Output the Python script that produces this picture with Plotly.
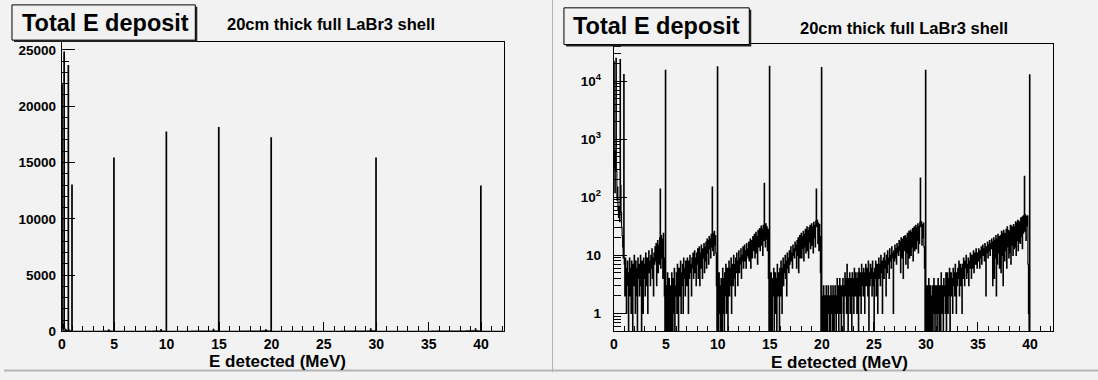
import numpy as np
import plotly.graph_objects as go

# ---------------- data (counts per 0.05 MeV bin) ----------------
bin_width = 0.05  # MeV
counts_00_05 = [21900, 310, 120, 640, 24800, 280, 90, 150, 60, 45,
                70, 38, 23600, 160, 55, 30, 22, 14, 9, 13000,
                7, 2, 9, 4, 1, 6, 8, 3, 0, 5,
                9, 2, 6, 1, 8, 4, 0, 7, 3, 10,
                5, 1, 8, 6, 2, 0, 9, 4, 7, 2,
                6, 10, 3, 0, 8, 5, 1, 9, 4, 7,
                2, 11, 6, 3, 9, 1, 7, 12, 5, 8,
                3, 10, 6, 13, 4, 9, 2, 11, 7, 14,
                8, 16, 3, 12, 18, 5, 15, 7, 20, 138,
                6, 22, 9, 19, 4, 24, 9, 2, 0, 15400]
counts_05_10 = [3, 0, 1, 5, 0, 2, 4, 0, 1, 3,
                0, 5, 2, 0, 4, 1, 6, 0, 3, 2,
                5, 1, 7, 3, 0, 6, 2, 4, 8, 1,
                5, 3, 7, 1, 9, 4, 6, 2, 8, 5,
                3, 9, 6, 1, 8, 4, 10, 5, 7, 2,
                9, 6, 11, 4, 8, 12, 5, 9, 3, 11,
                7, 13, 4, 10, 14, 3, 11, 6, 15, 8,
                4, 13, 9, 16, 5, 14, 8, 17, 6, 19,
                11, 18, 7, 21, 13, 19, 9, 23, 14, 150,
                12, 24, 10, 26, 15, 22, 11, 3, 0, 17700]
counts_10_15 = [2, 0, 5, 1, 3, 0, 4, 2, 0, 6,
                1, 4, 0, 5, 2, 7, 1, 3, 6, 0,
                4, 8, 2, 6, 3, 9, 1, 5, 7, 3,
                10, 4, 7, 2, 9, 5, 11, 6, 3, 8,
                12, 5, 9, 7, 13, 4, 10, 8, 14, 6,
                11, 15, 8, 12, 6, 16, 10, 13, 9, 17,
                8, 15, 19, 6, 14, 18, 9, 21, 12, 17,
                23, 9, 19, 25, 11, 21, 7, 27, 14, 24,
                29, 12, 25, 32, 15, 28, 10, 33, 18, 175,
                30, 14, 35, 19, 31, 12, 28, 4, 0, 18100]
counts_15_20 = [3, 0, 5, 1, 0, 4, 2, 6, 0, 3,
                5, 1, 4, 0, 7, 2, 5, 3, 0, 6,
                2, 8, 4, 1, 6, 9, 3, 7, 5, 10,
                4, 8, 2, 11, 6, 9, 5, 12, 7, 10,
                14, 8, 11, 6, 15, 10, 13, 9, 17, 12,
                15, 6, 18, 10, 20, 5, 16, 22, 9, 19,
                24, 9, 21, 13, 26, 8, 23, 14, 28, 11,
                25, 31, 12, 27, 9, 30, 17, 33, 13, 29,
                35, 15, 31, 11, 37, 20, 33, 14, 39, 138,
                31, 40, 16, 36, 12, 34, 21, 5, 0, 17200]
counts_20_25 = [2, 0, 1, 3, 0, 2, 1, 0, 3, 1,
                0, 2, 3, 1, 0, 2, 0, 3, 1, 2,
                0, 3, 1, 0, 2, 3, 1, 0, 2, 4,
                1, 3, 0, 2, 4, 1, 3, 0, 2, 3,
                4, 1, 0, 3, 5, 2, 4, 1, 7, 3,
                0, 4, 2, 5, 1, 3, 4, 0, 5, 2,
                4, 1, 6, 3, 2, 5, 4, 1, 3, 5,
                0, 6, 2, 4, 5, 1, 7, 3, 5, 2,
                6, 4, 1, 5, 7, 3, 4, 6, 2, 8,
                0, 5, 3, 7, 4, 6, 2, 8, 5, 3]
counts_25_30 = [0, 6, 4, 8, 2, 5, 7, 1, 6, 9,
                4, 7, 3, 10, 5, 8, 1, 6, 9, 4,
                11, 6, 8, 2, 10, 5, 12, 7, 9, 4,
                13, 8, 10, 6, 14, 9, 11, 1, 12, 8,
                15, 9, 13, 7, 16, 11, 14, 10, 18, 12,
                17, 5, 20, 9, 15, 19, 4, 21, 12, 13,
                22, 7, 20, 11, 24, 6, 21, 26, 9, 23,
                27, 10, 25, 14, 29, 8, 26, 31, 12, 28,
                33, 13, 30, 18, 35, 11, 32, 16, 37, 214,
                31, 38, 15, 34, 20, 36, 14, 6, 0, 15400]
counts_30_35 = [2, 0, 3, 1, 0, 4, 2, 0, 3, 1,
                0, 2, 3, 0, 1, 4, 2, 0, 3, 1,
                3, 0, 2, 4, 1, 0, 3, 2, 0, 5,
                2, 1, 3, 0, 4, 2, 3, 1, 5, 0,
                3, 5, 1, 4, 2, 6, 0, 3, 5, 2,
                4, 1, 6, 3, 5, 2, 7, 4, 1, 5,
                3, 6, 4, 8, 2, 5, 7, 3, 6, 1,
                7, 4, 9, 5, 3, 8, 6, 10, 4, 7,
                5, 9, 3, 8, 6, 11, 7, 4, 10, 6,
                9, 12, 5, 8, 11, 7, 13, 9, 6, 11]
counts_35_40 = [8, 13, 10, 6, 12, 9, 14, 7, 11, 15,
                10, 13, 8, 16, 12, 2, 14, 11, 17, 9,
                15, 12, 18, 10, 16, 13, 19, 14, 3, 17,
                20, 4, 18, 9, 22, 2, 19, 7, 23, 11,
                21, 6, 17, 22, 5, 26, 10, 24, 3, 27,
                22, 8, 24, 12, 28, 6, 31, 14, 27, 9,
                26, 11, 33, 7, 32, 15, 30, 10, 34, 13,
                31, 14, 38, 10, 36, 18, 40, 12, 39, 17,
                37, 16, 44, 21, 45, 13, 47, 24, 49, 230,
                26, 50, 18, 46, 32, 48, 7, 1, 0, 12900]
counts_40_42 = [0] * 40

# ---------------- axis labels / texts ----------------
xtick_vals = [0, 5, 10, 15, 20, 25, 30, 35, 40]
xtick_text = ["0", "5", "10", "15", "20", "25", "30", "35", "40"]
ylin_tick_vals = [0, 5000, 10000, 15000, 20000, 25000]
ylin_tick_text = ["0", "5000", "10000", "15000", "20000", "25000"]
ylog_tick_vals = [1, 10, 100, 1000, 10000]
ylog_tick_text = ["1", "10", "10<sup>2</sup>", "10<sup>3</sup>", "10<sup>4</sup>"]
title_text = "Total E deposit"
subtitle_text = "20cm thick full LaBr3 shell"
x_title = "E detected (MeV)"

# ---------------- build histogram ----------------
counts = np.array(counts_00_05 + counts_05_10 + counts_10_15 + counts_15_20 +
                  counts_20_25 + counts_25_30 + counts_30_35 + counts_35_40 +
                  counts_40_42, dtype=float)
edges = np.arange(len(counts) + 1) * bin_width
step_y = np.append(counts, counts[-1])
# zero bins drop to the bottom of the frame on the log pad
step_y_log = np.where(step_y > 0, step_y, 0.05)

W, H = 1098, 380
FONT = "Liberation Sans"


def fx(x):
    return x / W


def fy(y):
    return 1 - y / H


fig = go.Figure()
fig.add_trace(go.Scatter(x=edges, y=step_y, mode="lines", xaxis="x", yaxis="y",
                         line=dict(color="black", width=1.2, shape="hv"),
                         hoverinfo="skip", showlegend=False))
fig.add_trace(go.Scatter(x=edges, y=step_y_log, mode="lines", xaxis="x2", yaxis="y2",
                         line=dict(color="black", width=1.1, shape="hv"),
                         hoverinfo="skip", showlegend=False))

tickfont = dict(family=FONT, size=13.5, color="black", weight="bold")
xaxis_common = dict(range=[0, 42.2], showline=True, linecolor="black", linewidth=1,
                    mirror=True, ticks="inside", ticklen=9, tickwidth=1, tickcolor="black",
                    tickvals=xtick_vals, ticktext=xtick_text, showgrid=False, zeroline=False,
                    tickfont=dict(family=FONT, size=14, color="black", weight="bold"),
                    minor=dict(ticks="inside", ticklen=5, dtick=1, tick0=0,
                               tickcolor="black", tickwidth=1, showgrid=False),
                    fixedrange=True)

log_minor = []
for dec in [0.1, 1, 10, 100, 1000, 10000]:
    for m in range(2, 10):
        v = m * dec
        if 0.5 <= v <= 43000:
            log_minor.append(v)

fig.update_layout(
    width=W, height=H,
    margin=dict(l=0, r=0, t=0, b=0),
    paper_bgcolor="#f2f2f2", plot_bgcolor="#f2f2f2",
    xaxis=dict(domain=[fx(58), fx(502)], anchor="y", **xaxis_common),
    yaxis=dict(domain=[fy(338.5), fy(42.5)], anchor="x", range=[0, 25740],
               showline=True, linecolor="black", linewidth=1, mirror=True,
               ticks="inside", ticklen=13, tickwidth=1, tickcolor="black",
               tickvals=ylin_tick_vals, ticktext=ylin_tick_text, tickfont=tickfont,
               minor=dict(ticks="inside", ticklen=7, dtick=1000, tick0=0,
                          tickcolor="black", tickwidth=1, showgrid=False),
               showgrid=False, zeroline=False, ticklabelstandoff=2, fixedrange=True),
    xaxis2=dict(domain=[fx(612), fx(1052.7)], anchor="y2", **xaxis_common),
    yaxis2=dict(domain=[fy(338.5), fy(45)], anchor="x2", type="log", range=[-0.31, 4.64],
                showline=True, linecolor="black", linewidth=1, mirror=True,
                ticks="inside", ticklen=13, tickwidth=1, tickcolor="black",
                tickvals=ylog_tick_vals, ticktext=ylog_tick_text, tickfont=tickfont,
                minor=dict(ticks="inside", ticklen=7, tickvals=log_minor,
                           tickcolor="black", tickwidth=1, showgrid=False),
                showgrid=False, zeroline=False, ticklabelstandoff=9, fixedrange=True),
)

shapes = []
annotations = []
# pad separators
shapes.append(dict(type="line", xref="paper", yref="paper", x0=fx(550.5), x1=fx(550.5),
                   y0=0, y1=1, line=dict(color="#b4b4b4", width=1), layer="above"))
shapes.append(dict(type="line", xref="paper", yref="paper", x0=0, x1=1,
                   y0=fy(378.5), y1=fy(378.5), line=dict(color="#b4b4b4", width=2), layer="above"))

for (bx0, by0, bx1, by1, tcx, tcy, scx, scy, xtx, xty) in [
        (8, 5, 192, 41, 101.5, 23, 328, 25, 275, 369),
        (562, 8, 748, 45.5, 655, 26.5, 903.5, 29, 839, 370)]:
    # shadow
    shapes.append(dict(type="rect", xref="paper", yref="paper",
                       x0=fx(bx0 + 2), x1=fx(bx1 + 2), y0=fy(by1 + 2), y1=fy(by0 + 2),
                       fillcolor="#222222", line=dict(width=0), layer="above"))
    shapes.append(dict(type="rect", xref="paper", yref="paper",
                       x0=fx(bx0), x1=fx(bx1), y0=fy(by1), y1=fy(by0),
                       fillcolor="#f2f2f2", line=dict(color="black", width=1), layer="above"))
    annotations.append(dict(text=title_text, xref="paper", yref="paper", x=fx(tcx), y=fy(tcy),
                            xanchor="center", yanchor="middle", showarrow=False,
                            font=dict(family=FONT, size=23.5, color="black", weight="bold")))
    annotations.append(dict(text=subtitle_text, xref="paper", yref="paper", x=fx(scx), y=fy(scy),
                            xanchor="center", yanchor="middle", showarrow=False,
                            font=dict(family=FONT, size=16.5, color="black", weight="bold")))
    annotations.append(dict(text=x_title, xref="paper", yref="paper", x=fx(xtx), y=fy(xty),
                            xanchor="center", yanchor="middle", showarrow=False,
                            font=dict(family=FONT, size=17, color="black", weight="bold")))

fig.update_layout(shapes=shapes, annotations=annotations)
fig.write_html("out.html", config={"displayModeBar": False})
